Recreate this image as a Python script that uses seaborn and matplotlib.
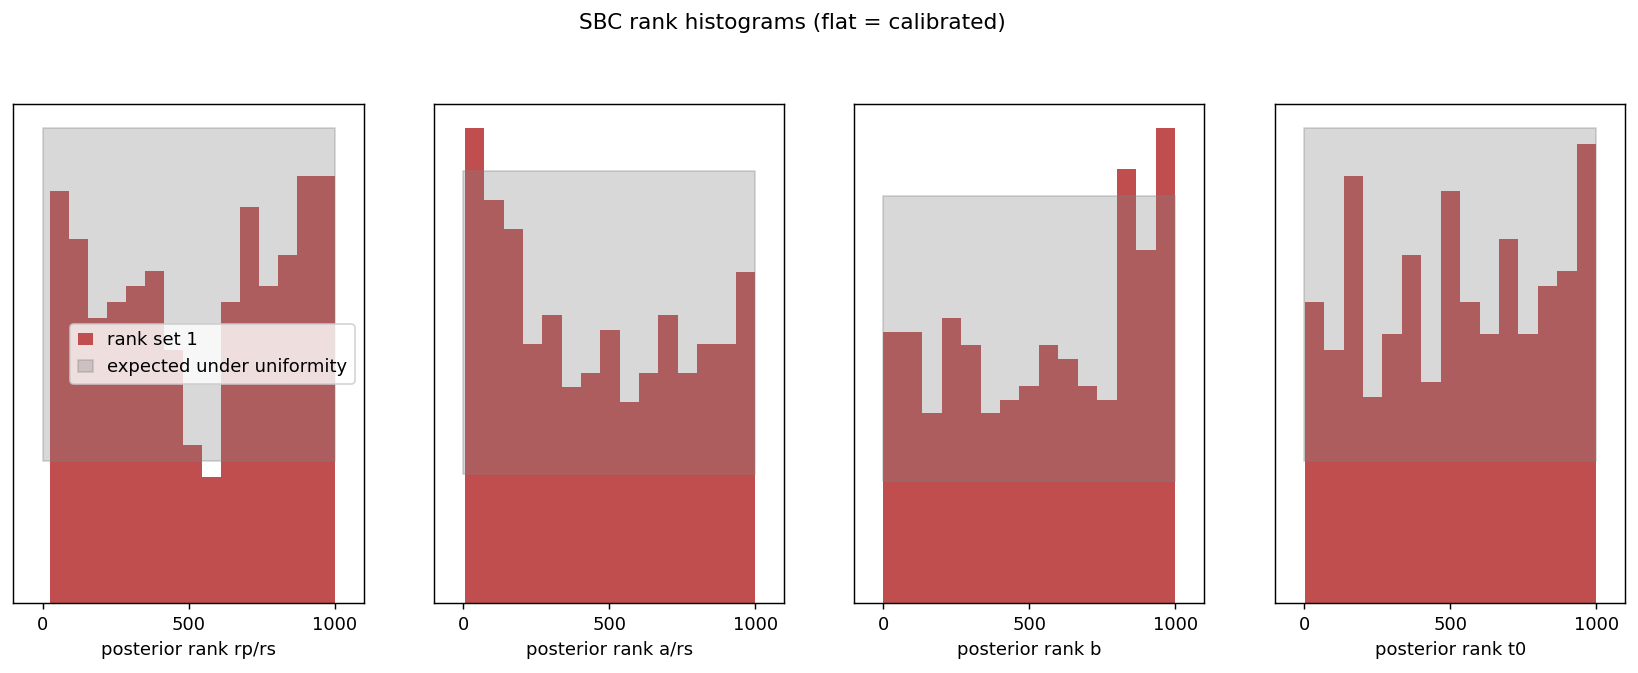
import numpy as np
import pandas as pd
import matplotlib
matplotlib.use("Agg")
import matplotlib.pyplot as plt
import seaborn as sns

# ---- data ----
param_labels = ["rp/rs", "a/rs", "b", "t0"]
counts_rp = [26, 23, 18, 19, 20, 21, 16, 10, 8, 19, 25, 20, 22, 27, 27]
counts_a = [33, 28, 26, 18, 20, 15, 16, 19, 14, 16, 20, 16, 18, 18, 23]
counts_b = [20, 20, 14, 21, 19, 14, 15, 16, 19, 18, 16, 15, 32, 26, 35]
counts_t0 = [19, 16, 27, 13, 17, 22, 14, 26, 19, 17, 23, 17, 20, 21, 29]
rank_min = [27, 6, 0, 2]
rank_max = [1000, 1000, 1000, 1000]
band_low = 9
band_high = 30
band_x = [0, 1000]
n_bins = 15
xticks = [0, 500, 1000]

all_counts = [counts_rp, counts_a, counts_b, counts_t0]

DPI = 130
W, H = 1638, 673
fig = plt.figure(figsize=(W / DPI, H / DPI), dpi=DPI)

lefts_px = [13.3, 434.0, 854.0, 1275.0]
width_px = 350.4
bottom_frac = (H - 603.3) / H
height_frac = (603.3 - 104.3) / H

bar_color = "#C14E4E"

for i, (lab, counts) in enumerate(zip(param_labels, all_counts)):
    ax = fig.add_axes([lefts_px[i] / W, bottom_frac, width_px / W, height_frac])
    lo, hi = rank_min[i], rank_max[i]
    step = (hi - lo) / n_bins
    centers = [lo + step * (k + 0.5) for k in range(n_bins)]
    df = pd.DataFrame({"rank": centers, "count": counts})
    sns.histplot(data=df, x="rank", weights="count", bins=n_bins,
                 binrange=(lo, hi), ax=ax,
                 color=bar_color, alpha=1.0, linewidth=0, edgecolor="none",
                 antialiased=False, label="rank set 1")
    ax.fill_between(band_x, band_low, band_high, color="gray", alpha=0.3,
                    label="expected under uniformity")
    ax.set_xlim(-100, 1100)
    ax.set_xticks(xticks)
    ax.set_yticks([])
    ax.set_ylabel("")
    ax.set_xlabel(f"posterior rank {lab}")
    if i == 0:
        handles, labels = ax.get_legend_handles_labels()
        order = [labels.index("rank set 1"), labels.index("expected under uniformity")]
        ax.legend([handles[k] for k in order], [labels[k] for k in order],
                  loc="center right", handlelength=0.85, handleheight=0.6)

fig.suptitle("SBC rank histograms (flat = calibrated)", fontsize=12, x=0.484)
fig.savefig("out.png", dpi=DPI)
